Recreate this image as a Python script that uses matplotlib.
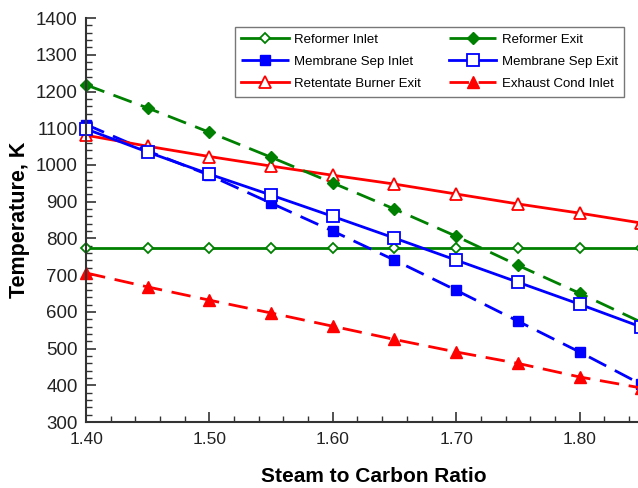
import numpy as np
import matplotlib
matplotlib.use("Agg")
import matplotlib.pyplot as plt
from matplotlib.ticker import MultipleLocator, FormatStrFormatter

plt.rcParams['font.family'] = ['Liberation Sans', 'DejaVu Sans']
plt.rcParams['lines.scale_dashes'] = False

# steam to carbon ratio
sc_ratio = [1.40, 1.45, 1.50, 1.55, 1.60, 1.65, 1.70, 1.75, 1.80, 1.85]

# temperatures, K
reformer_inlet = [775, 775, 775, 775, 775, 775, 775, 775, 775, 775]
reformer_exit = [1218, 1155, 1089, 1021, 951, 880, 806, 727, 651, 572]
memb_sep_inlet = [1110, 1038, 972, 896, 820, 741, 659, 575, 491, 403]
memb_sep_exit = [1098, 1035, 975, 918, 860, 801, 741, 681, 621, 559]
retentate_burner_exit = [1081, 1051, 1023, 997, 972, 948, 921, 894, 869, 842]
exhaust_cond_inlet = [706, 668, 632, 597, 561, 525, 491, 460, 423, 393]

GREEN = '#008000'
BLUE = '#0000ff'
RED = '#ff0000'
DASH = (0, (14, 7))

fig = plt.figure(figsize=(6.38, 4.88), dpi=100)
ax = fig.add_axes([0.135, 0.135, 0.87, 0.828])

lw = 2.0
ax.plot(sc_ratio, reformer_inlet, color=GREEN, lw=lw, marker='D', ms=5.5,
        mfc='white', mec=GREEN, mew=1.3, label='Reformer Inlet', clip_on=False)
ax.plot(sc_ratio, memb_sep_inlet, color=BLUE, lw=lw, ls=DASH, marker='s', ms=7,
        mfc=BLUE, mec=BLUE, label='Membrane Sep Inlet', clip_on=False)
ax.plot(sc_ratio, retentate_burner_exit, color=RED, lw=lw, marker='^', ms=8,
        mfc='white', mec=RED, mew=1.3, label='Retentate Burner Exit', clip_on=False)
ax.plot(sc_ratio, reformer_exit, color=GREEN, lw=lw, ls=DASH, marker='D', ms=6,
        mfc=GREEN, mec=GREEN, label='Reformer Exit', clip_on=False)
ax.plot(sc_ratio, memb_sep_exit, color=BLUE, lw=lw, marker='s', ms=8,
        mfc='white', mec=BLUE, mew=1.3, label='Membrane Sep Exit', clip_on=False)
ax.plot(sc_ratio, exhaust_cond_inlet, color=RED, lw=lw, ls=DASH, marker='^', ms=8,
        mfc=RED, mec=RED, label='Exhaust Cond Inlet', clip_on=False)

ax.set_xlim(1.40, 1.85)
ax.set_ylim(300, 1400)
ax.xaxis.set_major_locator(MultipleLocator(0.10))
ax.xaxis.set_minor_locator(MultipleLocator(0.02))
ax.xaxis.set_major_formatter(FormatStrFormatter('%.2f'))
ax.yaxis.set_major_locator(MultipleLocator(100))
ax.yaxis.set_minor_locator(MultipleLocator(20))

for side in ['top', 'right']:
    ax.spines[side].set_visible(False)
for side in ['left', 'bottom']:
    ax.spines[side].set_linewidth(1.5)
    ax.spines[side].set_color('#333333')

ax.tick_params(which='both', direction='in', colors='#333333', labelcolor='#222222')
ax.tick_params(which='major', length=7, width=1.2)
ax.tick_params(which='minor', length=4, width=1.0)
ax.tick_params(axis='x', pad=7, labelsize=12.5)
ax.tick_params(axis='y', pad=6, labelsize=13.5)

ax.set_xlabel('Steam to Carbon Ratio', fontsize=15, fontweight='bold')
ax.xaxis.set_label_coords(0.519, -0.11)
ax.set_ylabel('Temperature, K', fontsize=15.5, fontweight='bold', labelpad=4)

leg = ax.legend(ncol=2, loc='upper left', bbox_to_anchor=(0.268, 0.978),
                fontsize=9.5, frameon=True, fancybox=False, handlelength=3.6,
                columnspacing=2.1, borderpad=0.5, labelspacing=0.75,
                handletextpad=0.4, borderaxespad=0)
leg.get_frame().set_edgecolor('#555555')
leg.get_frame().set_linewidth(1.0)

fig.savefig('out.png', dpi=100)
